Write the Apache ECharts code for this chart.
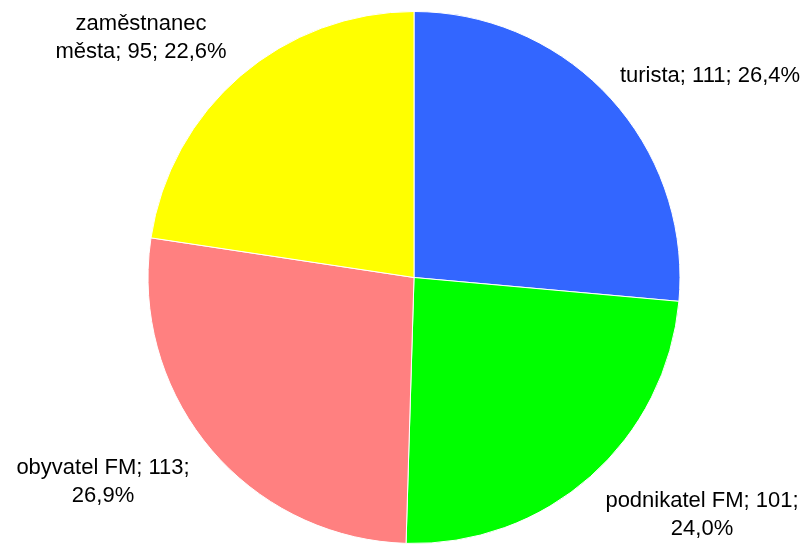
<!DOCTYPE html>
<html>
<head>
<meta charset="utf-8">
<script src="https://cdn.jsdelivr.net/npm/echarts@6/dist/echarts.min.js"></script>
<style>html,body{margin:0;padding:0;background:#fff;}#c{width:811px;height:544px;}</style>
</head>
<body>
<div id="c"></div>
<script>
const categories = ['turista', 'podnikatel FM', 'obyvatel FM', 'zaměstnanec města'];
const values = [111, 101, 113, 95];
const colors = ['#3366FF', '#00FF00', '#FF8080', '#FFFF00'];

// label layout (centres of label blocks) and line-break style
const labelPos = [[710, 76], [702, 515], [103, 482], [141, 38]];
const breakMode = ['none', 'beforePct', 'beforePct', 'inName'];

const total = values.reduce((a, b) => a + b, 0);
function fmt(p) {
  const i = p.dataIndex;
  const pct = (p.value / total * 100).toFixed(1).replace('.', ',') + '%';
  const name = p.name;
  if (breakMode[i] === 'beforePct') return name + '; ' + p.value + ';\n' + pct;
  if (breakMode[i] === 'inName') {
    const parts = name.split(' ');
    return parts[0] + '\n' + parts.slice(1).join(' ') + '; ' + p.value + '; ' + pct;
  }
  return name + '; ' + p.value + '; ' + pct;
}

const chart = echarts.init(document.getElementById('c'));
chart.setOption({
  animation: false,
  series: [{
    type: 'pie',
    center: [414, 277.5],
    radius: 266,
    startAngle: 90,
    clockwise: true,
    silent: true,
    data: categories.map((c, i) => ({ name: c, value: values[i], itemStyle: { color: colors[i] } })),
    itemStyle: { borderColor: '#ffffff', borderWidth: 1 },
    label: {
      show: true,
      position: 'outside',
      formatter: fmt,
      fontFamily: 'Liberation Sans, Arial, sans-serif',
      fontSize: 22,
      lineHeight: 28,
      color: '#000',
      align: 'center',
      overflow: 'none',
      width: 300
    },
    labelLine: { show: false },
    labelLayout: function (p) {
      const pos = labelPos[p.dataIndex];
      return { x: pos[0], y: pos[1], align: 'center', verticalAlign: 'middle' };
    }
  }]
});
</script>
</body>
</html>
